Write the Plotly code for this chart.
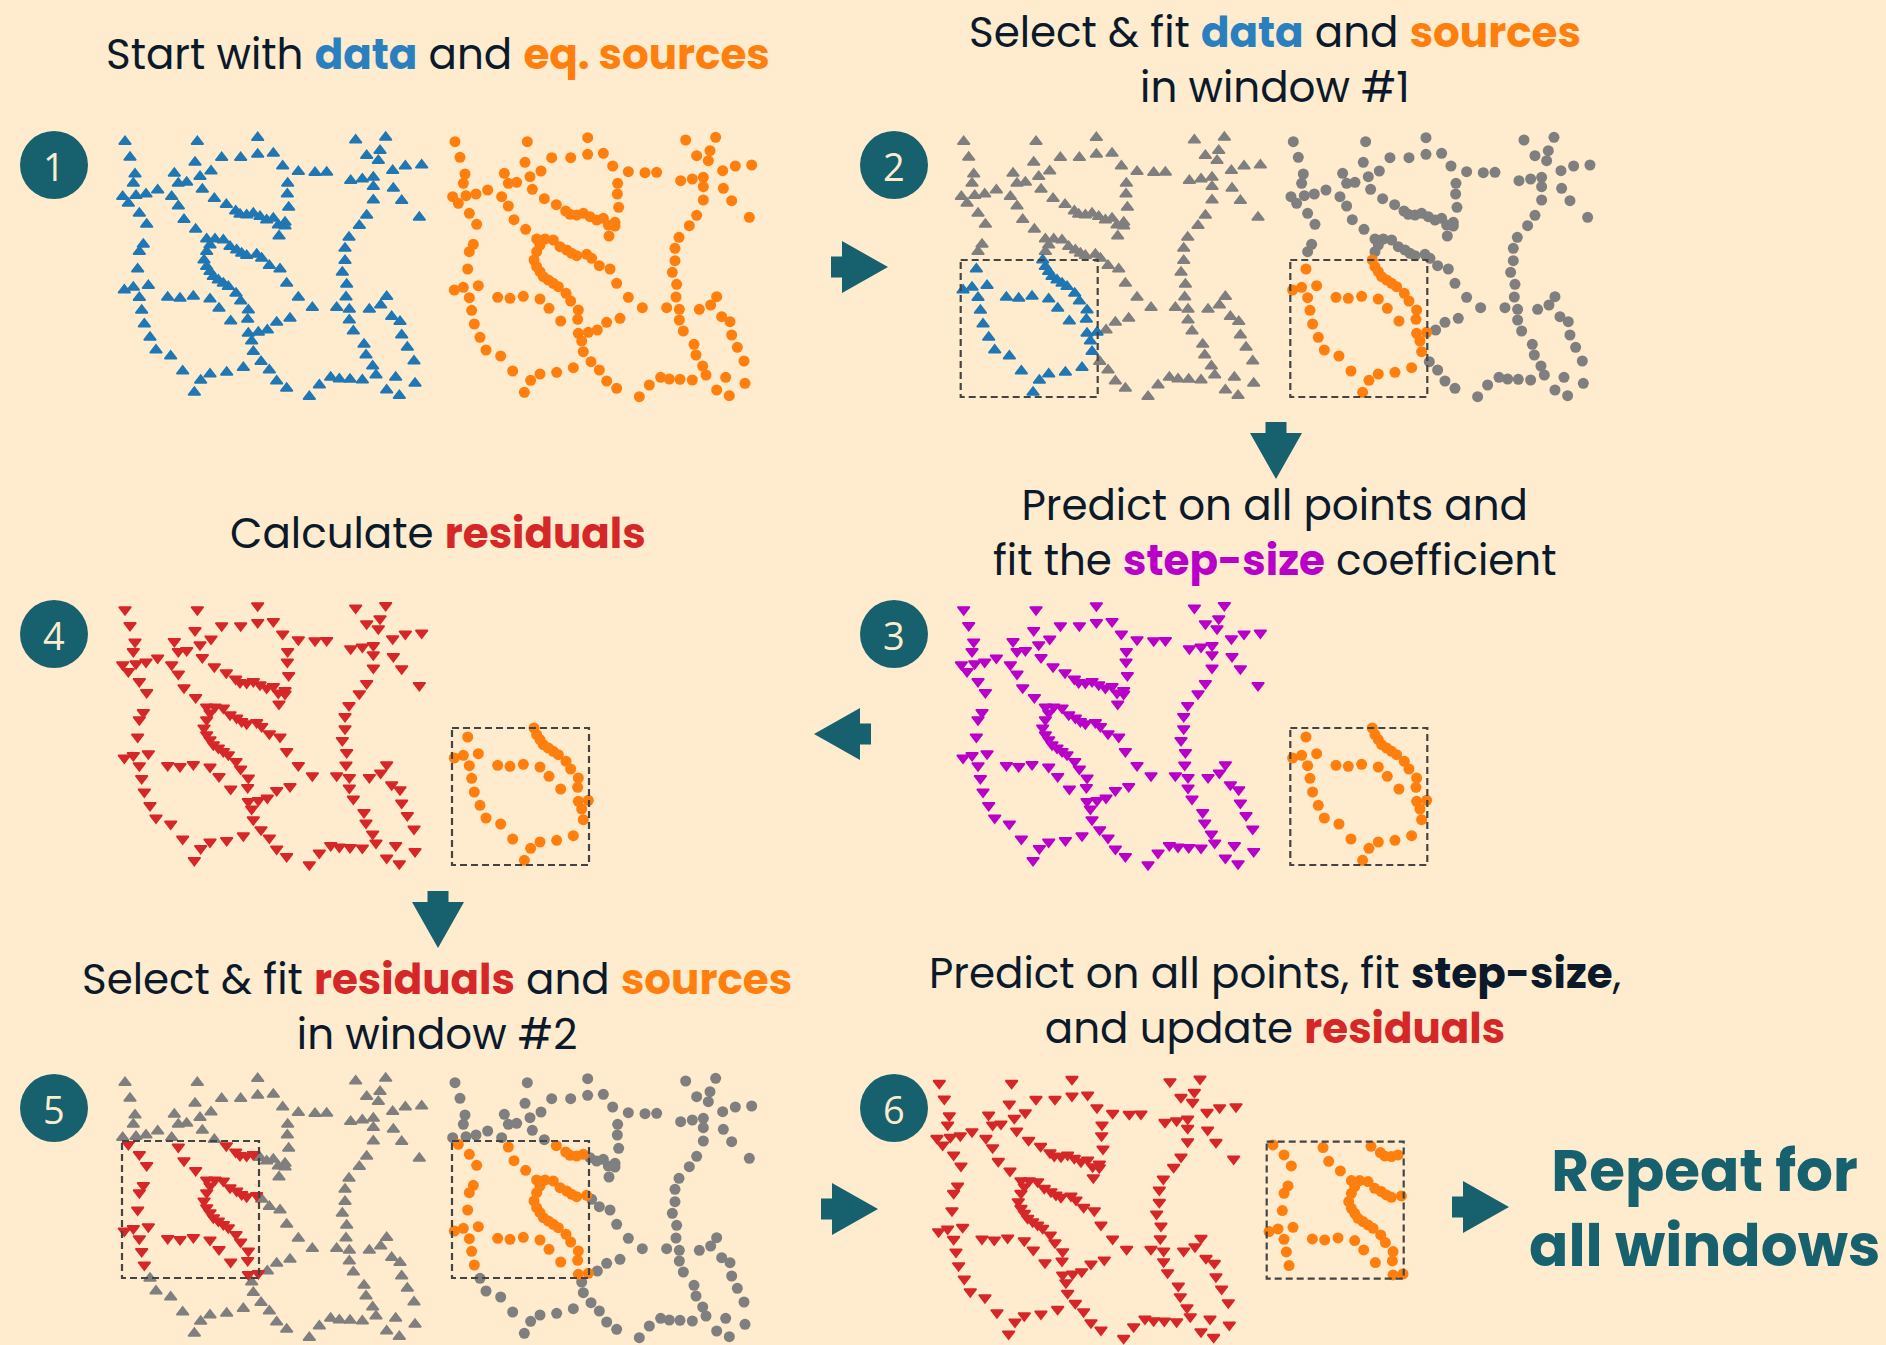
import plotly.graph_objects as go

W, H = 1886, 1345
BG = "#ffebcd"
TEAL = "#17606e"
INK = "#0b1a2b"
BLUE = "#1f77b4"
ORANGE = "#ff7f0e"
GRAY = "#7f7f7f"
RED = "#d62728"
MAGENTA = "#b800c8"

# ---------------- data: point locations (easting, southing) ----------------
east = [45, 60, 75, 70, 38, 55, 78, 108, 143, 88, 110,
        100, 88, 83, 43, 70, 115, 88, 95, 103, 120, 138, 182, 218, 272, 253, 300, 350, 400,
        262, 255, 193, 205, 230, 270, 303, 335, 392, 443, 443, 490, 518, 565, 615, 650, 533, 532, 536,
        185, 205, 222, 257, 277, 313, 349, 377, 390, 410, 430, 450, 470, 490, 505, 525, 525, 507,
        290, 315, 340, 360, 380, 395, 410, 440, 455, 478, 510, 530, 565, 607,
        300, 290, 282, 290, 300, 310, 325, 340, 355, 378, 392, 415, 413, 362, 327, 300, 250, 210, 173,
        415, 425, 445, 472, 500, 540, 430, 453, 478, 500, 530,
        737, 827, 810, 770, 805, 848, 886, 935, 722, 757, 790, 790, 850, 875, 928, 790, 770, 748,
        717, 705, 705, 697, 710, 708, 718, 680, 718, 730, 778, 812, 830, 845, 870, 875, 892, 912,
        915, 762, 768, 788, 798, 757, 720, 688, 662, 628, 598, 857, 830, 868]
south = [50, 97, 147, 175, 215, 235, 212, 207, 195, 265, 298,
         358, 380, 432, 495, 487, 482, 518, 556, 597, 637, 675, 693, 738, 766, 802, 747, 742, 728,
         50, 112, 145, 175, 172, 155, 138, 98, 98, 38, 88, 85, 123, 140, 143, 142, 175, 207, 247,
         215, 243, 284, 313, 193, 221, 239, 258, 268, 270, 265, 275, 285, 280, 300, 292, 303, 333,
         342, 342, 345, 365, 375, 385, 392, 388, 400, 422, 432, 475, 517, 548,
         360, 380, 405, 425, 440, 455, 465, 475, 485, 505, 528, 555, 583, 588, 550, 522, 514, 520, 517,
         625, 648, 622, 615, 592, 580, 680, 710, 735, 768, 790,
         45, 37, 77, 92, 107, 137, 123, 120, 167, 162, 157, 185, 190, 227, 277, 225, 271, 302,
         337, 370, 407, 442, 478, 516, 553, 548, 585, 618, 553, 540, 515, 575, 590, 630, 667, 708,
         775, 658, 690, 723, 750, 765, 763, 762, 757, 780, 815, 757, 795, 812]

UNITS_PER_PX = 3

# windows (easting min/max, southing min/max)
window_1 = [36, 447, 405, 816]
window_2 = [36, 447, 225, 636]


def inside(win):
    e0, e1, s0, s1 = win
    return [e0 <= e <= e1 and s0 <= s <= s1 for e, s in zip(east, south)]


def subset(mask, keep=True):
    xs = [e for e, m in zip(east, mask) if m == keep]
    ys = [s for s, m in zip(south, mask) if m == keep]
    return xs, ys


in_w1 = inside(window_1)
in_w2 = inside(window_2)

fig = go.Figure()
layout_axes = {}

BOX_W, BOX_H = 320, 285
TRI = dict(size=10.5, line=dict(width=1.6))
CIRC = dict(size=11, line=dict(width=0))

panel_count = [0]


def new_axes(ox, oy):
    panel_count[0] += 1
    n = panel_count[0]
    bh = min(BOX_H, H - oy)
    xa = dict(domain=[ox / W, (ox + BOX_W) / W], range=[0, BOX_W * UNITS_PER_PX], visible=False,
              anchor=f"y{n}", fixedrange=True)
    ya = dict(domain=[max(0, 1 - (oy + bh) / H), 1 - oy / H], range=[bh * UNITS_PER_PX, 0], visible=False,
              anchor=f"x{n}", fixedrange=True)
    layout_axes["xaxis" if n == 1 else f"xaxis{n}"] = xa
    layout_axes["yaxis" if n == 1 else f"yaxis{n}"] = ya
    return ("x" if n == 1 else f"x{n}"), ("y" if n == 1 else f"y{n}")


def pts(xr, yr, xs, ys, symbol, color, style):
    m = dict(style)
    m["symbol"] = symbol
    m["color"] = color
    if "line" in m:
        m["line"] = dict(m["line"], color=color)
    fig.add_trace(go.Scatter(x=xs, y=ys, mode="markers", xaxis=xr, yaxis=yr,
                             marker=m, hoverinfo="skip", showlegend=False, cliponaxis=False))


def window_box(xr, yr, win):
    e0, e1, s0, s1 = win
    fig.add_shape(type="rect", xref=xr, yref=yr, x0=e0, x1=e1, y0=s0, y1=s1,
                  line=dict(color="#444444", width=2.2, dash="7px,4px"), fillcolor="rgba(0,0,0,0)")


# ---- panel 1: data + sources
xr, yr = new_axes(110, 125)
pts(xr, yr, east, south, "triangle-up", BLUE, TRI)
xr, yr = new_axes(440, 125)
pts(xr, yr, east, south, "circle", ORANGE, CIRC)

# ---- panel 2: select window 1
xr, yr = new_axes(948.7, 125)
pts(xr, yr, *subset(in_w1, False), "triangle-up", GRAY, TRI)
pts(xr, yr, *subset(in_w1, True), "triangle-up", BLUE, TRI)
window_box(xr, yr, window_1)
xr, yr = new_axes(1278.3, 125)
pts(xr, yr, *subset(in_w1, False), "circle", GRAY, CIRC)
pts(xr, yr, *subset(in_w1, True), "circle", ORANGE, CIRC)
window_box(xr, yr, window_1)

# ---- panel 3: predict
xr, yr = new_axes(948.7, 593)
pts(xr, yr, east, south, "triangle-down", MAGENTA, TRI)
xr, yr = new_axes(1278.3, 593)
pts(xr, yr, *subset(in_w1, True), "circle", ORANGE, CIRC)
window_box(xr, yr, window_1)

# ---- panel 4: residuals
xr, yr = new_axes(110, 593)
pts(xr, yr, east, south, "triangle-down", RED, TRI)
xr, yr = new_axes(440, 593)
pts(xr, yr, *subset(in_w1, True), "circle", ORANGE, CIRC)
window_box(xr, yr, window_1)

# ---- panel 5: select window 2
xr, yr = new_axes(110, 1066)
pts(xr, yr, *subset(in_w2, False), "triangle-up", GRAY, TRI)
pts(xr, yr, *subset(in_w2, True), "triangle-down", RED, TRI)
window_box(xr, yr, window_2)
xr, yr = new_axes(440, 1066)
pts(xr, yr, *subset(in_w2, False), "circle", GRAY, CIRC)
pts(xr, yr, *subset(in_w2, True), "circle", ORANGE, CIRC)
window_box(xr, yr, window_2)

# ---- panel 6: predict + update residuals
xr, yr = new_axes(924.3, 1066.6)
pts(xr, yr, east, south, "triangle-down", RED, TRI)
xr, yr = new_axes(1254.7, 1066.6)
pts(xr, yr, *subset(in_w2, True), "circle", ORANGE, CIRC)
window_box(xr, yr, window_2)

# ---- overlay axis in page pixels for decorations
panel_count[0] += 1
n = panel_count[0]
OX, OY = f"x{n}", f"y{n}"
layout_axes[f"xaxis{n}"] = dict(domain=[0, 1], range=[0, W], visible=False, anchor=OY, fixedrange=True)
layout_axes[f"yaxis{n}"] = dict(domain=[0, 1], range=[H, 0], visible=False, anchor=OX, fixedrange=True)
fig.add_trace(go.Scatter(x=[0], y=[0], mode="markers", marker=dict(opacity=0), xaxis=OX, yaxis=OY,
                         hoverinfo="skip", showlegend=False))


def arrow(tx, ty, direction):
    dx, dy = {"right": (1, 0), "left": (-1, 0), "down": (0, 1)}[direction]
    px, py = -dy, dx
    head_len, head_half, tail_len, tail_half = 46, 26, 11, 10.5

    def p(a, b):
        return (tx - dx * a + px * b, ty - dy * a + py * b)
    poly = [p(0, 0), p(head_len, head_half), p(head_len, tail_half), p(head_len + tail_len, tail_half),
            p(head_len + tail_len, -tail_half), p(head_len, -tail_half), p(head_len, -head_half)]
    path = "M " + " L ".join(f"{x:.1f},{y:.1f}" for x, y in poly) + " Z"
    fig.add_shape(type="path", path=path, xref=OX, yref=OY, fillcolor=TEAL, line=dict(width=0))


arrow(888, 267, "right")
arrow(1276, 479, "down")
arrow(814, 734, "left")
arrow(438, 948, "down")
arrow(878, 1209, "right")
arrow(1509, 1207, "right")

# numbered step circles
steps = [("1", 54, 165), ("2", 894, 165), ("3", 894, 634), ("4", 54, 634), ("5", 54, 1108), ("6", 894, 1108)]
for label, cx, cy in steps:
    fig.add_shape(type="circle", xref=OX, yref=OY, x0=cx - 34, x1=cx + 34, y0=cy - 34, y1=cy + 34,
                  fillcolor=TEAL, line=dict(width=0))
    fig.add_annotation(x=cx, y=cy + 1, xref=OX, yref=OY, text=label, showarrow=False,
                       font=dict(size=38, color="#fdebd0", family="Open Sans"),
                       xanchor="center", yanchor="middle")

FONT = "Poppins, Open Sans, sans-serif"


def c(word, color):
    return f"<span style='color:{color}'><b>{word}</b></span>"


captions = [
    (438, 54, f"Start with {c('data', '#2a7fbf')} and {c('eq. sources', ORANGE)}"),
    (1275, 60, f"Select &amp; fit {c('data', '#2a7fbf')} and {c('sources', ORANGE)}<br>in window #1"),
    (1275, 533, f"Predict on all points and<br>fit the {c('step-size', MAGENTA)} coefficient"),
    (438, 533, f"Calculate {c('residuals', RED)}"),
    (437, 1007, f"Select &amp; fit {c('residuals', RED)} and {c('sources', ORANGE)}<br>in window #2"),
    (1275, 1001, f"Predict on all points, fit <b>step-size</b>,<br>and update {c('residuals', RED)}"),
]
for x, y, txt in captions:
    fig.add_annotation(x=x, y=y, xref=OX, yref=OY, text=txt, showarrow=False,
                       font=dict(size=42, color=INK, family=FONT), xanchor="center", yanchor="middle",
                       align="center")

fig.add_annotation(x=1704, y=1208, xref=OX, yref=OY, text="<b>Repeat for<br>all windows</b>",
                   showarrow=False, font=dict(size=58, color=TEAL, family=FONT),
                   xanchor="center", yanchor="middle", align="center")

fig.update_layout(width=W, height=H, margin=dict(l=0, r=0, t=0, b=0),
                  paper_bgcolor=BG, plot_bgcolor="rgba(0,0,0,0)", showlegend=False, **layout_axes)

fig.write_html("out.html", config={"displayModeBar": False},
               post_script="document.body.style.margin='0';document.body.style.background='" + BG + "';")
